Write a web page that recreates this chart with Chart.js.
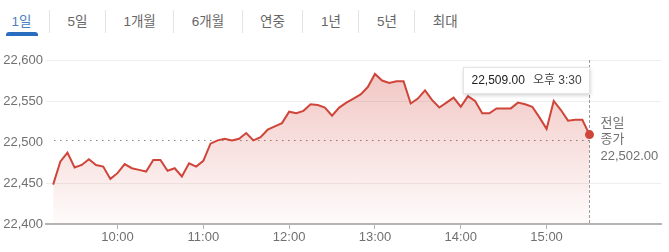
<!DOCTYPE html>
<html lang="ko">
<head>
<meta charset="utf-8">
<script src="https://cdn.jsdelivr.net/npm/chart.js@4.4.1/dist/chart.umd.min.js"></script>
<style>
  html, body { margin: 0; padding: 0; background: #fff; }
  body {
    width: 669px; height: 252px; position: relative; overflow: hidden;
    font-family: Arial, "Liberation Sans", "Noto Sans CJK KR", sans-serif;
  }
  .tabs { position: absolute; left: 0; top: 0; height: 45px; display: flex; align-items: flex-start; }
  .tab {
    font-size: 13.5px; color: #666; padding: 0 17.5px; margin-top: 10px;
    height: 23px; line-height: 23px; border-left: 1px solid #e3e3e3; position: relative;
  }
  .tab.active { border-left: none; padding-left: 11.5px; color: #4a7fc1; }
  .tab.active::after {
    content: ''; position: absolute; left: 6px; width: 32px; top: 22px; height: 4px;
    background: #2a6dbe; border-radius: 3px 3px 0 0;
  }
  #wrap { position: absolute; left: 0; top: 45px; width: 669px; height: 207px; }
</style>
</head>
<body>
<div class="tabs">
  <div class="tab active">1일</div>
  <div class="tab">5일</div>
  <div class="tab">1개월</div>
  <div class="tab">6개월</div>
  <div class="tab">연중</div>
  <div class="tab">1년</div>
  <div class="tab">5년</div>
  <div class="tab">최대</div>
</div>
<div id="wrap"><canvas id="chart"></canvas></div>
<script>
// minutes from midnight, first quote at 9:15, one quote every 5 minutes
const startMinute = 555;
const stepMinutes = 5;

const prices = [
    22448, 22476, 22487, 22469, 22472, 22479, 22472, 22470, 22455, 22462,
    22473, 22468, 22466, 22464, 22478, 22478, 22465, 22468, 22458, 22474,
    22470, 22477, 22498, 22502, 22504, 22502, 22504, 22511, 22502, 22506,
    22515, 22519, 22523, 22537, 22535, 22538, 22546, 22545, 22542, 22532,
    22542, 22548, 22553, 22558, 22567, 22583, 22575, 22572, 22574, 22574,
    22547, 22553, 22563, 22551, 22542, 22548, 22554, 22543, 22556, 22550,
    22535, 22535, 22541, 22541, 22541, 22548, 22546, 22543, 22530, 22516,
    22550, 22539, 22526, 22527, 22527, 22509,
];

const prevClose = 22502;
const closeLabels = ['전일', '종가', '22,502.00'];
const lastPriceLabel = '22,509.00';
const lastTimeLabel = '오후 3:30';

const xMin = 550;
const xMax = 980;
const xTickValues = [600, 660, 720, 780, 840, 900];
const xTickLabels = ['10:00', '11:00', '12:00', '13:00', '14:00', '15:00'];
const yTickValues = [22400, 22450, 22500, 22550, 22600];
const yTickLabels = ['22,400', '22,450', '22,500', '22,550', '22,600'];

const FONT = 'Arial, "Liberation Sans", "Noto Sans CJK KR", sans-serif';
const RED = '#d0453a';

const points = prices.map((p, i) => ({ x: startMinute + i * stepMinutes, y: p }));

const overlay = {
    id: 'overlay',
    beforeDatasetsDraw(chart) {
        const { ctx, chartArea, scales } = chart;
        const last = chart.getDatasetMeta(0).data[prices.length - 1];
        const yPrev = scales.y.getPixelForValue(prevClose);

        ctx.save();
        // previous close, dotted
        ctx.strokeStyle = '#808080';
        ctx.lineWidth = 1.2;
        ctx.setLineDash([1.5, 4.5]);
        ctx.beginPath();
        ctx.moveTo(chartArea.left + 8, Math.round(yPrev) + 0.5);
        ctx.lineTo(last.x, Math.round(yPrev) + 0.5);
        ctx.stroke();

        // current time marker, dashed
        ctx.strokeStyle = '#9a9a9a';
        ctx.lineWidth = 1;
        ctx.setLineDash([3, 2]);
        ctx.beginPath();
        ctx.moveTo(Math.round(last.x) + 0.5, chartArea.top);
        ctx.lineTo(Math.round(last.x) + 0.5, chartArea.bottom);
        ctx.stroke();
        ctx.restore();
    },
    afterDatasetsDraw(chart) {
        const { ctx, chartArea, scales } = chart;
        const last = chart.getDatasetMeta(0).data[prices.length - 1];
        const yPrev = scales.y.getPixelForValue(prevClose);

        ctx.save();
        ctx.font = '13px ' + FONT;
        ctx.fillStyle = '#707070';
        ctx.textAlign = 'left';
        ctx.textBaseline = 'middle';
        const lx = last.x + 11;
        ctx.fillText(closeLabels[0], lx, yPrev - 17);
        ctx.fillText(closeLabels[1], lx, yPrev - 1);
        ctx.fillText(closeLabels[2], lx, yPrev + 16);

        // tooltip box
        ctx.font = '12px ' + FONT;
        const w1 = ctx.measureText(lastPriceLabel).width;
        const w2 = ctx.measureText(lastTimeLabel).width;
        const boxW = 8 + w1 + 8 + w2 + 8;
        const boxH = 26;
        const bx = Math.round(last.x - boxW) + 0.5;
        const by = chartArea.top + 7.5;
        ctx.shadowColor = 'rgba(0,0,0,0.22)';
        ctx.shadowBlur = 4;
        ctx.shadowOffsetY = 1;
        ctx.fillStyle = '#fff';
        ctx.fillRect(bx, by, boxW, boxH);
        ctx.shadowColor = 'transparent';
        ctx.strokeStyle = '#e4e4e4';
        ctx.lineWidth = 1;
        ctx.strokeRect(bx, by, boxW, boxH);
        ctx.fillStyle = '#222';
        ctx.fillText(lastPriceLabel, bx + 8, by + boxH / 2);
        ctx.fillStyle = '#444';
        ctx.fillText(lastTimeLabel, bx + 8 + w1 + 8, by + boxH / 2);
        ctx.restore();
    },
};

new Chart(document.getElementById('chart').getContext('2d'), {
    type: 'line',
    data: {
        datasets: [
            {
                data: points,
                borderColor: RED,
                borderWidth: 2,
                tension: 0,
                fill: 'start',
                backgroundColor: function (context) {
                    const area = context.chart.chartArea;
                    if (!area) {
                        return 'rgba(208,69,58,0.15)';
                    }
                    const g = context.chart.ctx.createLinearGradient(0, area.top, 0, area.bottom);
                    g.addColorStop(0, 'rgba(208,69,58,0.32)');
                    g.addColorStop(1, 'rgba(208,69,58,0.02)');
                    return g;
                },
                pointRadius: (c) => (c.dataIndex === prices.length - 1 ? 4.5 : 0),
                pointBackgroundColor: RED,
                pointBorderWidth: 0,
            },
        ],
    },
    options: {
        responsive: true,
        maintainAspectRatio: false,
        animation: false,
        events: [],
        layout: {
            padding: { top: 15, right: 8, left: 0, bottom: 0 },
        },
        plugins: {
            legend: { display: false },
            tooltip: { enabled: false },
        },
        scales: {
            x: {
                type: 'linear',
                min: xMin,
                max: xMax,
                afterBuildTicks: (s) => {
                    s.ticks = xTickValues.map((v) => ({ value: v }));
                },
                afterFit: (s) => {
                    s.height = 28;
                },
                ticks: {
                    autoSkip: false,
                    maxRotation: 0,
                    padding: 1,
                    color: '#707070',
                    font: { family: FONT, size: 13 },
                    callback: (v) => xTickLabels[xTickValues.indexOf(v)],
                },
                grid: {
                    drawOnChartArea: false,
                    tickLength: 5,
                    tickColor: '#b5b5b5',
                    tickWidth: 1,
                },
                border: { color: '#b5b5b5', width: 2 },
            },
            y: {
                min: 22400,
                max: 22600,
                afterBuildTicks: (s) => {
                    s.ticks = yTickValues.map((v) => ({ value: v }));
                },
                afterFit: (s) => {
                    s.width = 46;
                },
                ticks: {
                    padding: 3,
                    color: '#707070',
                    font: { family: FONT, size: 13 },
                    callback: (v) => yTickLabels[yTickValues.indexOf(v)],
                },
                grid: {
                    drawTicks: false,
                    color: (c) => (c.tick && (c.tick.value === 22400 || c.tick.value === 22500) ? 'rgba(0,0,0,0)' : '#eeeeee'),
                },
                border: { display: false },
            },
        },
    },
    plugins: [overlay],
});
</script>
</body>
</html>
